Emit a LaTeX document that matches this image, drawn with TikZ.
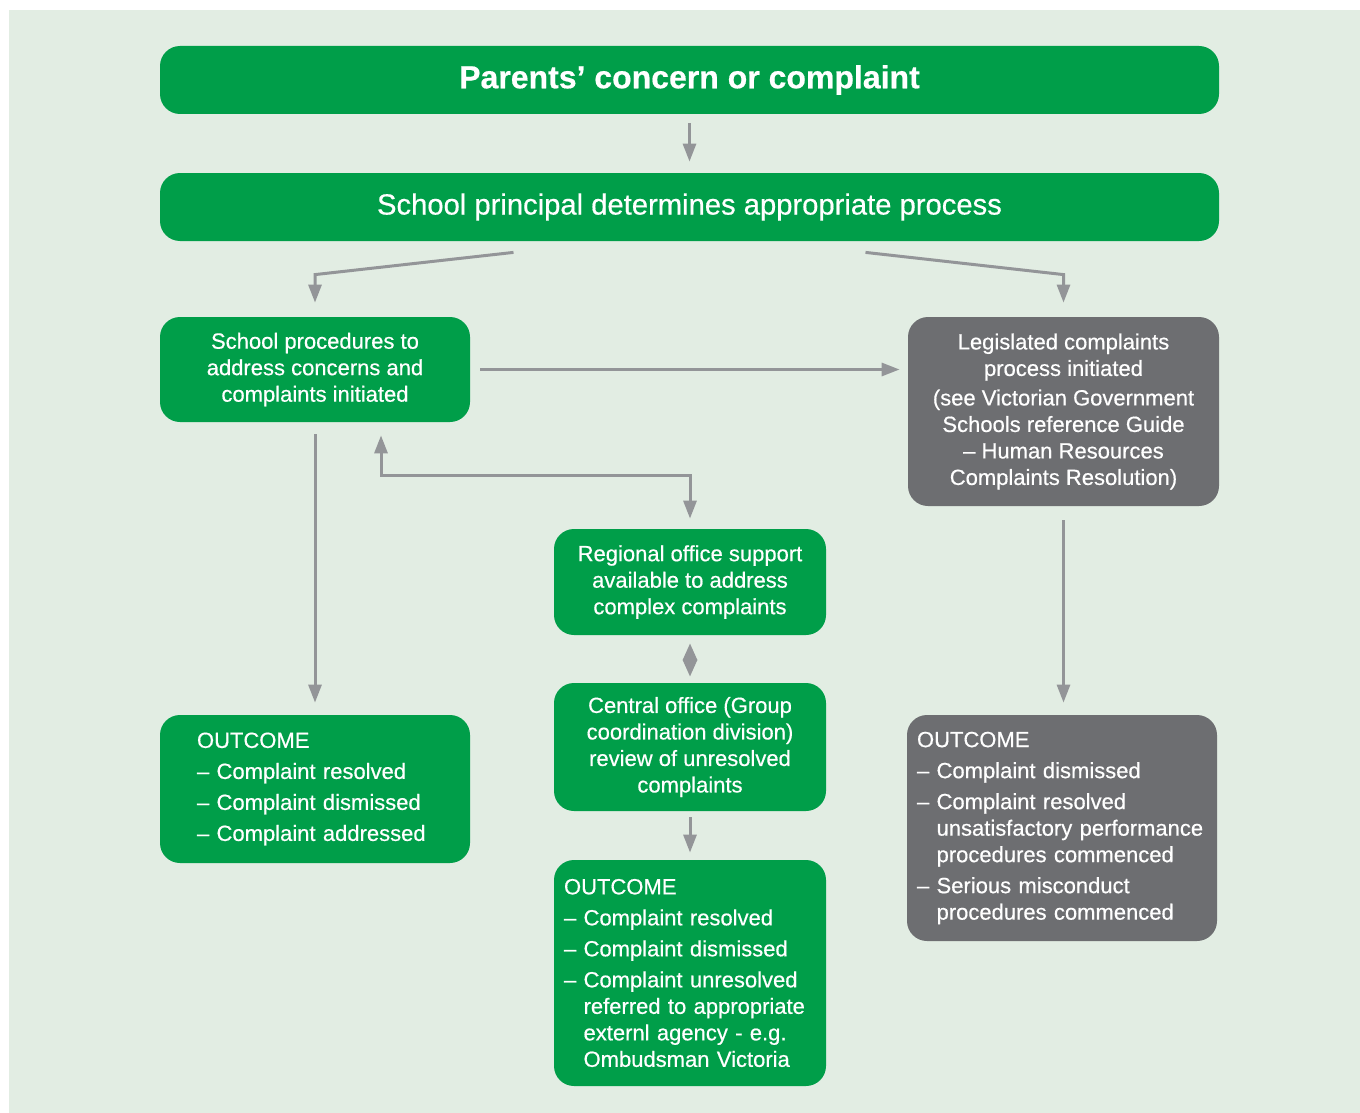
\documentclass[tikz,border=0pt]{standalone}
\usepackage{fontspec}
\setmainfont{Liberation Sans}[RawFeature={embolden=0.5}]
\usepackage{xcolor}
\usepackage{tikz}
\usetikzlibrary{arrows.meta, positioning}
\definecolor{bggreen}{HTML}{E2EDE3}
\definecolor{boxgreen}{HTML}{009E49}
\definecolor{boxgrey}{HTML}{6D6E71}
\definecolor{arrowgrey}{HTML}{939598}

\begin{document}
\begin{tikzpicture}[x=0.5pt, y=-0.5pt,
    greenbox/.style={fill=boxgreen, text=white, rounded corners=10pt, inner ysep=0pt,
        font=\fontsize{11}{13.25}\selectfont},
    greybox/.style={greenbox, fill=boxgrey},
    flow/.style={draw=arrowgrey, line width=1.5pt, ->},
    >={Triangle[length=9pt, width=6.5pt]}]
    % Background
    \useasboundingbox (0, 0) rectangle (1360, 1113);
    \fill[bggreen] (9, 10) rectangle (1360, 1113);

    % Top boxes
    \node[greenbox, minimum width=529.5pt, minimum height=34pt,
        font=\bfseries\fontsize{16}{18}\selectfont] (parents) at (689.5, 80) {Parents’ concern or complaint};
    \node[greenbox, minimum width=529.5pt, minimum height=34pt,
        font=\fontsize{14.6}{17}\selectfont] (principal) at (689.5, 207) {School principal determines appropriate process};

    % Processes
    \node[greenbox, minimum width=155pt, minimum height=52.5pt, align=center] (school) at (315, 369.5)
        {School procedures to\\address concerns and\\complaints initiated};
    \node[greybox, minimum width=155.5pt, minimum height=94.5pt, align=center] (legis) at (1063.5, 411.5)
        {Legislated complaints\\process initiated\\[1.5pt](see Victorian Government\\Schools reference Guide\\– Human Resources\\Complaints Resolution)};
    \node[greenbox, minimum width=136pt, minimum height=53pt, align=center] (regional) at (690, 582)
        {Regional office support\\available to address\\complex complaints};
    \node[greenbox, minimum width=136pt, minimum height=64pt, align=center] (central) at (690, 747)
        {Central office (Group\\coordination division)\\review of unresolved\\complaints};

    % Outcomes
    \node[greenbox, minimum height=74pt, text width=118pt, inner xsep=18.5pt, align=left] (outschool) at (315, 789)
        {OUTCOME\\[2.25pt]– Complaint resolved\\[2.25pt]– Complaint dismissed\\[2.25pt]– Complaint addressed};
    \node[greenbox, minimum height=113pt, text width=126pt, inner xsep=5pt, align=left] (outcentral) at (690, 973)
        {OUTCOME\\[2.25pt]– Complaint resolved\\[2.25pt]– Complaint dismissed\\[2.25pt]– Complaint unresolved\\\phantom{– }referred to appropriate\\\phantom{– }externl agency - e.g.\\\phantom{– }Ombudsman Victoria};
    \node[greybox, minimum height=113pt, text width=145pt, inner xsep=5pt, align=left] (outlegis) at (1062, 828)
        {OUTCOME\\[2.25pt]– Complaint dismissed\\[2.25pt]– Complaint resolved\\\phantom{– }\mbox{unsatisfactory performance}\\\phantom{– }procedures commenced\\[2.25pt]– Serious misconduct\\\phantom{– }procedures commenced};

    % Arrows
    \draw[flow, shorten <=4.5pt, shorten >=5.5pt] (parents) -- (principal);
    \draw[flow] ([xshift=-88pt, yshift=-5.5pt]principal.south) -- ([yshift=21pt]school.north) -- ([yshift=7pt]school.north);
    \draw[flow] ([xshift=88pt, yshift=-5.5pt]principal.south) -- ([yshift=21pt]legis.north) -- ([yshift=7pt]legis.north);
    \draw[flow, shorten <=5pt, shorten >=4pt] (school.east) -- (school.east -| legis.west);
    \draw[flow, shorten <=6pt, shorten >=6pt] (school) -- (outschool);
    \draw[flow, <->] ([xshift=33pt, yshift=-6.5pt]school.south) |- ([yshift=26.5pt]regional.north) -- ([yshift=5pt]regional.north);
    \draw[flow, <->, >={Triangle[length=8.4pt, width=7pt]}] ([yshift=-4pt]regional.south) -- ([yshift=3pt]central.north);
    \draw[flow, shorten <=3pt, shorten >=3.5pt] (central) -- (outcentral);
    \draw[flow, shorten <=7pt, shorten >=6pt] (legis.south) -- (legis.south |- outlegis.north);
\end{tikzpicture}
\end{document}
